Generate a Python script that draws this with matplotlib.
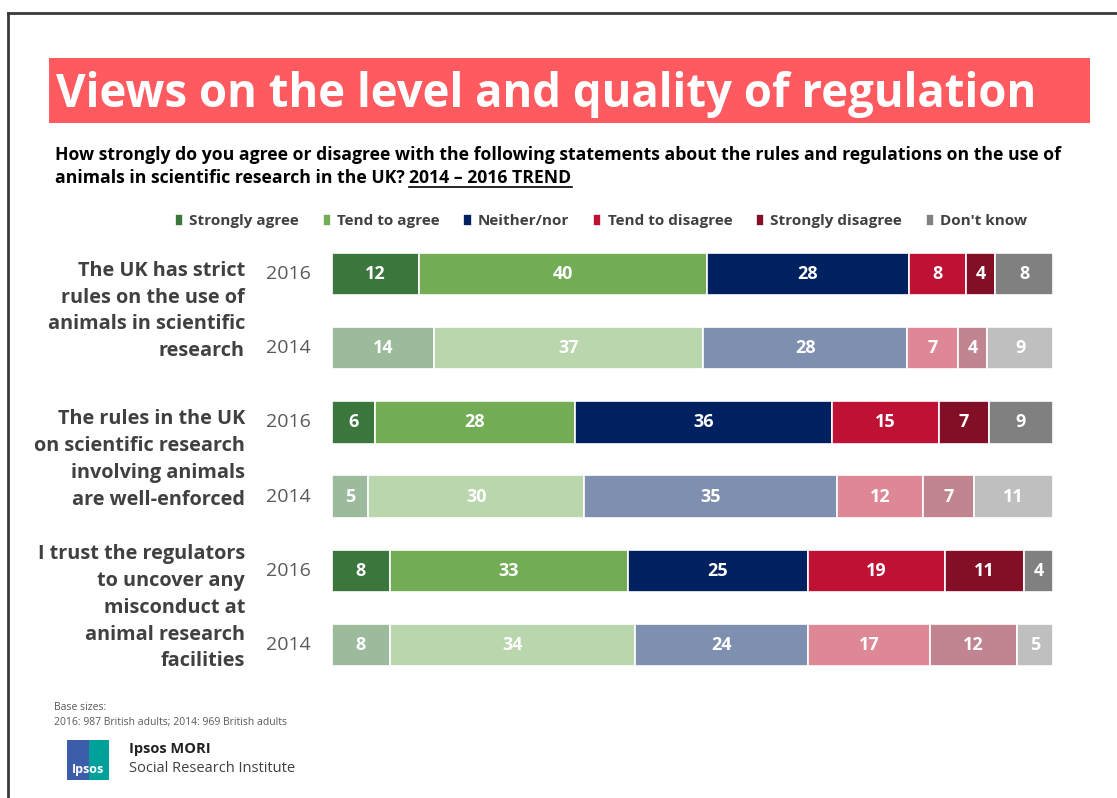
import numpy as np
import matplotlib
matplotlib.use("Agg")
import matplotlib.pyplot as plt
from matplotlib.patches import Rectangle
from matplotlib.lines import Line2D

# ---------------------------------------------------------------------------
# Data
# ---------------------------------------------------------------------------
categories = ["Strongly agree", "Tend to agree", "Neither/nor",
              "Tend to disagree", "Strongly disagree", "Don't know"]

statements = [
    "The UK has strict\nrules on the use of\nanimals in scientific\nresearch",
    "The rules in the UK\non scientific research\ninvolving animals\nare well-enforced",
    "I trust the regulators\nto uncover any\nmisconduct at\nanimal research\nfacilities",
]
years = ["2016", "2014"]

strict_2016 = [12, 40, 28, 8, 4, 8]
strict_2014 = [14, 37, 28, 7, 4, 9]
enforced_2016 = [6, 28, 36, 15, 7, 9]
enforced_2014 = [5, 30, 35, 12, 7, 11]
trust_2016 = [8, 33, 25, 19, 11, 4]
trust_2014 = [8, 34, 24, 17, 12, 5]

rows = [strict_2016, strict_2014, enforced_2016, enforced_2014, trust_2016, trust_2014]

colors_2016 = ["#3B763C", "#72AD56", "#002060", "#BE1134", "#820F26", "#808080"]
colors_2014 = ["#9CBB9C", "#B9D6AC", "#7F8FB0", "#DE8797", "#C08590", "#BFBFBF"]

W, H = 1117, 798


def fx(x):
    return x / W


def fy(y):
    return 1 - y / H


fig = plt.figure(figsize=(W / 100, H / 100), dpi=100)

# frame (top + left edges visible in the reference)
fig.add_artist(Line2D([fx(8), 1], [fy(13), fy(13)], color="#3a3a3a", lw=2))
fig.add_artist(Line2D([fx(8), fx(8)], [fy(13), 0], color="#3a3a3a", lw=2))

# title banner
fig.add_artist(Rectangle((fx(49), fy(123)), fx(1090) - fx(49), 65 / H,
                         transform=fig.transFigure, color="#FF5A5F", lw=0))
fig.text(fx(56), fy(94), "Views on the level and quality of regulation",
         color="white", fontsize=32.8, fontweight="bold", family="Open Sans",
         va="center", ha="left")

# question
sub_kw = dict(fontsize=12.7, fontweight="bold", family="Open Sans", color="black",
              va="center", ha="left")
fig.text(fx(55), fy(155), "How strongly do you agree or disagree with the following "
         "statements about the rules and regulations on the use of", **sub_kw)
t1 = fig.text(fx(55), fy(178), "animals in scientific research in the UK? ", **sub_kw)
fig.canvas.draw()
r = fig.canvas.get_renderer()
bb = t1.get_window_extent(r)
t2 = fig.text(bb.x1 / W, fy(178), "2014 \u2013 2016 TREND", **sub_kw)
bb2 = t2.get_window_extent(r)
fig.add_artist(Line2D([bb2.x0 / W, bb2.x1 / W], [fy(187), fy(187)], color="black", lw=1.2))

# ---------------------------------------------------------------------------
# Bars
# ---------------------------------------------------------------------------
ax = fig.add_axes([fx(332), fy(682), (1053 - 332) / W, (682 - 237) / H])
ypos = np.arange(len(rows))
handles = []
for i, vals in enumerate(rows):
    vals = np.array(vals, dtype=float)
    share = vals / vals.sum() * 100
    left = np.concatenate([[0], np.cumsum(share)[:-1]])
    cols = colors_2016 if i % 2 == 0 else colors_2014
    for j in range(len(vals)):
        b = ax.barh(ypos[i], share[j], left=left[j], height=0.57, color=cols[j],
                    edgecolor="white", linewidth=1.2,
                    label=categories[j] if i == 0 else None)
        if i == 0:
            handles.append(b)
        ax.text(left[j] + share[j] / 2, ypos[i], f"{int(vals[j])}", color="white",
                fontsize=13, fontweight="bold", family="Open Sans",
                ha="center", va="center")

ax.set_xlim(0, 100)
ax.set_ylim(len(rows) - 0.5, -0.5)
ax.axis("off")

# year labels and statements
for i in range(len(rows)):
    fig.text(fx(288), fy(274 + i * 74.2), years[i % 2], color="#595959",
             fontsize=14, family="Open Sans", ha="center", va="center")
for k, s in enumerate(statements):
    yc = 274 + (2 * k + 0.5) * 74.2
    fig.text(fx(245), fy(yc), s, color="#404040", fontsize=14.3, fontweight="bold",
             family="Open Sans", ha="right", va="center", linespacing=1.45,
             multialignment="right")

# legend
fig.legend(handles=[h[0] for h in handles], labels=categories, ncol=6,
           loc="center", bbox_to_anchor=(fx(601), fy(221)), frameon=False,
           handlelength=0.55, handleheight=0.8, handletextpad=0.4,
           columnspacing=1.55,
           prop={"family": "Open Sans", "weight": "bold", "size": 11})
for t in fig.legends[0].get_texts():
    t.set_color("#404040")

# footer
fig.text(fx(54), fy(708), "Base sizes:", fontsize=7.5, color="#595959",
         family="Open Sans", va="center")
fig.text(fx(54), fy(722), "2016: 987 British adults; 2014: 969 British adults",
         fontsize=7.5, color="#595959", family="Open Sans", va="center")

# logo block
fig.add_artist(Rectangle((fx(67), fy(780)), 42 / W, 40 / H, transform=fig.transFigure,
                         color="#3C5DAA", lw=0))
fig.add_artist(Rectangle((fx(89), fy(780)), 20 / W, 40 / H, transform=fig.transFigure,
                         color="#00A19A", lw=0))
fig.text(fx(88), fy(770), "Ipsos", color="white", fontsize=9, fontweight="bold",
         family="Open Sans", ha="center", va="center")
fig.text(fx(129), fy(749), "Ipsos MORI", color="#222222", fontsize=10.5,
         fontweight="bold", family="Open Sans", va="center")
fig.text(fx(129), fy(768), "Social Research Institute", color="#404040", fontsize=10.5,
         family="Open Sans", va="center")

fig.savefig("out.png", dpi=100)
